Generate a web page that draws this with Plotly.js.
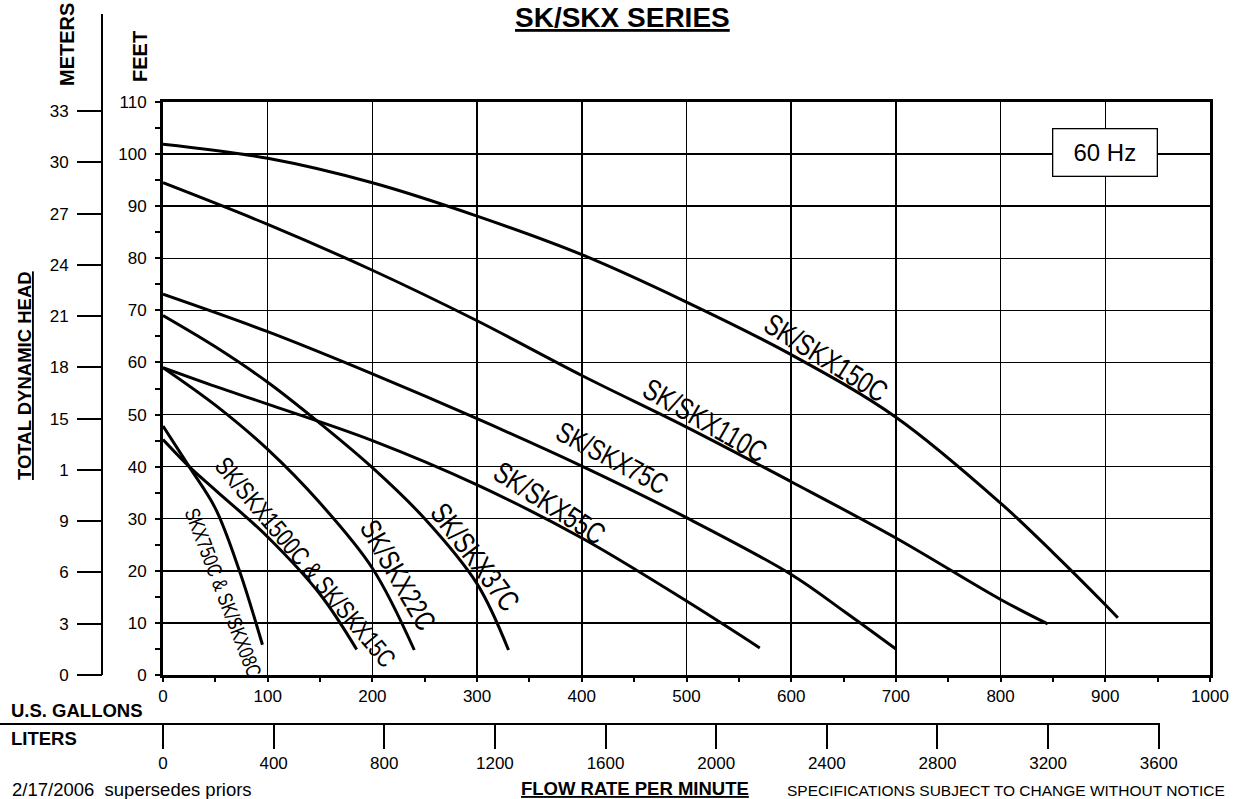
<!DOCTYPE html>
<html><head><meta charset="utf-8">
<script src="https://cdn.plot.ly/plotly-3.0.1.min.js"></script>
<style>html,body{margin:0;padding:0;background:#fff}#chart{width:1234px;height:799px}</style>
</head><body><div id="chart"></div>
<script>
// ---- data (flow in U.S. GPM, head in feet) ----
const gpm150 = [0,100,200,300,400,500,600,700,800,850,900,912];
const ft150  = [101.9,99.2,94.5,88.1,80.7,71.6,61.5,49.5,33.0,23.5,13.5,11.0];
const gpm110 = [0,100,200,300,400,500,600,700,800,845];
const ft110  = [94.5,86.5,77.7,68.0,57.5,47.6,37.1,26.3,14.5,9.8];
const gpm75  = [0,100,200,300,400,500,600,650,700];
const ft75   = [73.1,65.9,57.8,49.2,40.1,30.2,19.3,12.3,5.0];
const gpm55  = [0,50,100,200,300,400,500,570];
const ft55   = [59.0,55.4,52.0,45.0,36.5,26.3,14.2,5.2];
const gpm37  = [0,50,100,150,200,250,300,330];
const ft37   = [69.0,63.0,56.2,48.3,39.8,30.0,17.5,4.8];
const gpm22  = [0,50,100,150,200,240];
const ft22   = [59.0,51.8,43.3,33.0,20.5,4.8];
const gpm15  = [0,25,50,100,150,185];
const ft15   = [45.2,40.0,35.5,26.5,15.5,4.9];
const gpm08  = [0,25,50,73,95];
const ft08   = [47.8,40.0,32.0,20.0,5.8];

const curveNames = ['SK/SKX150C','SK/SKX110C','SK/SKX75C','SK/SKX55C','SK/SKX37C','SK/SKX22C','SK/SKX1500C & SK/SKX15C','SKX750C & SK/SKX08C'];

const feetTicks   = [0,10,20,30,40,50,60,70,80,90,100,110];
const meterTicks  = [0,3,6,9,12,15,18,21,24,27,30,33];
const meterLabels = ['0','3','6','9','1','15','18','21','24','27','30','33'];
const gpmTicks    = [0,100,200,300,400,500,600,700,800,900,1000];
const literTicks  = [0,400,800,1200,1600,2000,2400,2800,3200,3600];

const FT_PER_M = 3.28084, L_PER_GAL = 3.78541;

// ---- layout geometry ----
const W=1234, H=799, ML=60, MR=24, MT=102, MB=10;
const PW=W-ML-MR, PH=H-MT-MB;
const px = x => (x-ML)/PW;
const py = y => (H-MB-y)/PH;

const F  = 'Liberation Sans, Arial, sans-serif';

const series = [[gpm150,ft150],[gpm110,ft110],[gpm75,ft75],[gpm55,ft55],[gpm37,ft37],[gpm22,ft22],[gpm15,ft15],[gpm08,ft08]];
const traces = series.map((s,i)=>({
  x:s[0], y:s[1], type:'scatter', mode:'lines', name:curveNames[i],
  line:{color:'#000', width:3, shape:'spline', smoothing:1},
  xaxis:'x', yaxis:'y', hoverinfo:'skip', cliponaxis:false
}));
traces.push({x:[null],y:[null],xaxis:'x2',yaxis:'y',showlegend:false,hoverinfo:'skip',mode:'lines'});
traces.push({x:[null],y:[null],xaxis:'x',yaxis:'y2',showlegend:false,hoverinfo:'skip',mode:'lines'});

const labelPos = [
  {x:633, y:60.9, a:32, s:30},
  {x:518, y:48.8, a:30, s:30},
  {x:429, y:41.6, a:28, s:29},
  {x:368.7, y:33.1, a:33, s:30},
  {x:298, y:22.8, a:53, s:30},
  {x:224.5, y:19.2, a:60, s:29},
  {x:135.6, y:21.6, a:50, s:26},
  {x:57.5, y:15.8, a:69, s:21}
];
const annotations = labelPos.map((p,i)=>({
  text:curveNames[i], x:p.x, y:p.y, xref:'x', yref:'y', textangle:p.a,
  xanchor:'center', yanchor:'middle',
  showarrow:false, font:{family:F, size:p.s, color:'#000'}
}));
// 60 Hz box
annotations.push({text:'60 Hz', x:900, y:100.4, xref:'x', yref:'y', showarrow:false,
  xanchor:'center', yanchor:'middle',
  font:{family:F,size:24,color:'#000'}, bgcolor:'#fff', bordercolor:'#000', borderwidth:1.3,
  width:101, height:44, borderpad:1});
function pa(text, x, y, size, opts){
  return Object.assign({text:text, x:px(x), y:py(y), xref:'paper', yref:'paper', showarrow:false,
    xanchor:'center', yanchor:'middle', font:{family:F,size:size,color:'#000'}}, opts||{});
}
annotations.push(pa('<b><u>SK/SKX SERIES</u></b>', 622, 0, 28, {yanchor:'top'}));
annotations.push(pa('<b>METERS</b>', 67, 45, 20, {textangle:-90}));
annotations.push(pa('<b>FEET</b>', 140, 57, 20, {textangle:-90}));
annotations.push(pa('<b><u>TOTAL DYNAMIC HEAD</u></b>', 24, 376, 18.5, {textangle:-90}));
annotations.push(pa('<b>U.S. GALLONS</b>', 9, 710, 18.5, {xanchor:'left'}));
annotations.push(pa('<b>LITERS</b>', 9, 738, 18.5, {xanchor:'left'}));
annotations.push(pa('2/17/2006  supersedes priors', 10, 789, 18.5, {xanchor:'left'}));
annotations.push(pa('<b><u>FLOW RATE PER MINUTE</u></b>', 635, 788, 18.5));
annotations.push(pa('SPECIFICATIONS SUBJECT TO CHANGE WITHOUT NOTICE', 1006, 790, 15.5));

const shapes = [
  {type:'line', xref:'paper', yref:'paper', x0:px(102), x1:px(102), y0:py(675), y1:py(14), line:{color:'#000',width:2}},
  {type:'line', xref:'paper', yref:'paper', x0:px(0), x1:px(1160), y0:py(724), y1:py(724), line:{color:'#000',width:2}}
];

const tickFont = {family:F, size:17, color:'#000'};
const layout = {
  width:W, height:H, margin:{l:ML, r:MR, t:MT, b:MB}, paper_bgcolor:'#fff', plot_bgcolor:'#fff',
  showlegend:false,
  xaxis:{domain:[px(163),1], range:[0,1000], tickvals:gpmTicks, showgrid:true, gridcolor:'#000', gridwidth:1.5,
    showline:true, linecolor:'#000', linewidth:3, mirror:true, zeroline:false,
    ticks:'outside', ticklen:4, tickwidth:2, tickcolor:'#000', tickfont:tickFont, ticklabelstandoff:0,
    minor:{dtick:50, ticks:'outside', ticklen:4, tickwidth:2, tickcolor:'#000', showgrid:false}},
  yaxis:{domain:[py(675),1], range:[0,110], tickvals:feetTicks, showgrid:true, gridcolor:'#000', gridwidth:1.5,
    showline:true, linecolor:'#000', linewidth:3, mirror:true, zeroline:false,
    ticks:'outside', ticklen:5, tickwidth:2, tickcolor:'#000', tickfont:tickFont, ticklabelstandoff:5,
    minor:{dtick:5, ticks:'outside', ticklen:5, tickwidth:2, tickcolor:'#000', showgrid:false}},
  yaxis2:{overlaying:'y', anchor:'free', position:px(102), side:'left', range:[0,110/FT_PER_M],
    tickvals:meterTicks, ticktext:meterLabels, showgrid:false, showline:false, zeroline:false,
    ticks:'outside', ticklen:25, tickwidth:2, tickcolor:'#000', tickfont:tickFont, ticklabelstandoff:5},
  xaxis2:{overlaying:'x', anchor:'free', position:py(724), side:'bottom', range:[0,1000*L_PER_GAL],
    tickvals:literTicks, showgrid:false, showline:false, zeroline:false,
    ticks:'outside', ticklen:24, tickwidth:2, tickcolor:'#000', tickfont:tickFont, ticklabelstandoff:0},
  annotations:annotations, shapes:shapes
};
Plotly.newPlot('chart', traces, layout, {displayModeBar:false, staticPlot:true}).then(function(gd){
  // condense the curve labels (narrow face as in the reference)
  gd.querySelectorAll('text.annotation-text').forEach(function(t){
    if (curveNames.indexOf(t.textContent) >= 0) {
      var b = t.getBBox(), cx = b.x + b.width/2;
      t.setAttribute('transform', 'translate('+cx+',0) scale(0.77,1) translate('+(-cx)+',0)');
    }
  });
});
</script></body></html>
